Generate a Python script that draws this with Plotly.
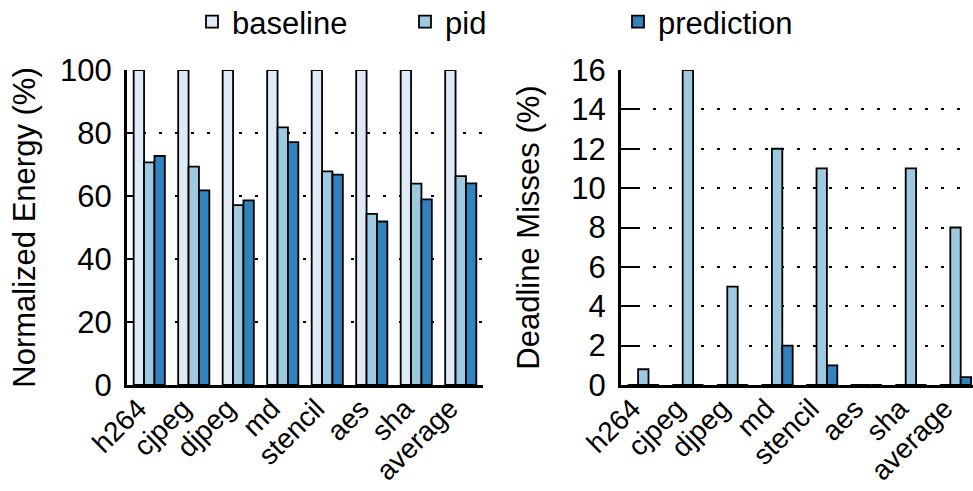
import plotly.graph_objects as go

categories = ["h264", "cjpeg", "djpeg", "md", "stencil", "aes", "sha", "average"]

energy_baseline = [100, 100, 100, 100, 100, 100, 100, 100]
energy_pid = [70.7, 69.3, 57.1, 81.8, 67.8, 54.3, 63.9, 66.3]
energy_prediction = [72.7, 61.8, 58.6, 77.1, 66.8, 51.9, 58.9, 64.0]

miss_baseline = [0, 0, 0, 0, 0, 0, 0, 0]
miss_pid = [0.8, 16, 5, 12, 11, 0, 11, 8]
miss_prediction = [0, 0, 0, 2, 1, 0, 0, 0.4]

series_names = ["baseline", "pid", "prediction"]
colors = ["#deebf7", "#9ecae1", "#3182bd"]

FONT = "Liberation Sans, Arial, Helvetica, sans-serif"
FS = 31

fig = go.Figure()

left = [energy_baseline, energy_pid, energy_prediction]
right = [miss_baseline, miss_pid, miss_prediction]

for name, color, vals in zip(series_names, colors, left):
    fig.add_trace(go.Bar(
        x=categories, y=vals, name=name, xaxis="x", yaxis="y",
        marker=dict(color=color, line=dict(color="black", width=1.8)),
        legendgroup=name, showlegend=True,
    ))
for name, color, vals in zip(series_names, colors, right):
    fig.add_trace(go.Bar(
        x=categories, y=vals, name=name, xaxis="x2", yaxis="y2",
        marker=dict(color=color, line=dict(color="black", width=1.8)),
        legendgroup=name, showlegend=False,
    ))

W, H = 973, 491
L, R, T, B = 127, 0, 70, 106
pw = W - L - R
d1 = (483 - L) / pw
d2 = (621 - L) / pw

common_x = dict(
    type="category", showgrid=False, showline=True, linecolor="black", linewidth=3,
    ticks="", tickangle=-45, tickfont=dict(size=28, color="black", family=FONT),
    zeroline=False, layer="below traces", automargin=False,
    ticklabelstandoff=-7, ticklabelshift=-11,
)
common_y = dict(
    showline=True, linecolor="black", linewidth=3, ticks="inside", ticklen=19,
    tickwidth=1.5, tickcolor="black", tickfont=dict(size=FS, color="black", family=FONT),
    showgrid=True, gridcolor="black", gridwidth=1.5, griddash="3px,13px",
    zeroline=False, layer="below traces", ticklabelstandoff=6, automargin=False,
)

n = len(categories)
fig.update_layout(
    width=W, height=H,
    margin=dict(l=L, r=R, t=T, b=B, autoexpand=False),
    paper_bgcolor="white", plot_bgcolor="white",
    font=dict(family=FONT, color="black"),
    barmode="group", bargap=0.30, bargroupgap=0.0,
    xaxis=dict(domain=[0, d1], range=[-0.5, n - 0.5], anchor="y", **common_x),
    xaxis2=dict(domain=[d2, 1], range=[-0.5, -0.5 + (W - 621) / 44.6], anchor="y2", **common_x),
    yaxis=dict(domain=[0, 1], range=[0, 100], dtick=20, anchor="x",
               title=dict(text="Normalized Energy (%)", font=dict(size=FS, family=FONT, color="black"), standoff=16),
               **common_y),
    yaxis2=dict(domain=[0, 1], range=[0, 16], dtick=2, anchor="x2",
                title=dict(text="Deadline Misses (%)", font=dict(size=FS, family=FONT, color="black"), standoff=23),
                **common_y),
    legend=dict(
        orientation="h", x=(192 - L) / pw, xanchor="left", y=1 + (70 - 22) / 315, yanchor="middle",
        font=dict(size=FS, family=FONT, color="black"), entrywidth=168, entrywidthmode="pixels",
        bgcolor="rgba(0,0,0,0)", traceorder="normal",
    ),
)

fig.write_html("out.html", config={"displayModeBar": False},
               post_script="document.body.style.margin='0';")
